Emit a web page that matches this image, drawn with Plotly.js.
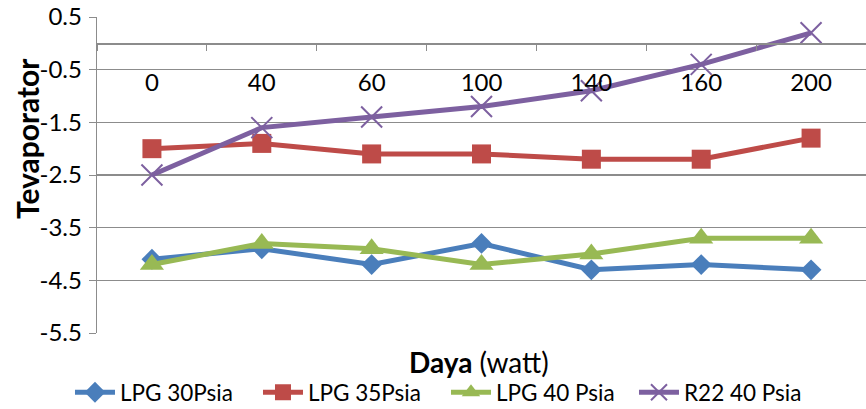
<!DOCTYPE html>
<html><head><meta charset="utf-8">
<script src="https://cdn.plot.ly/plotly-3.0.1.min.js"></script>
<style>html,body{margin:0;padding:0;background:#fff}#chart{width:866px;height:409px}</style>
</head><body><div id="chart"></div>
<script>
const categories = ['0','40','60','100','140','160','200'];
const lpg30 = [-4.1, -3.9, -4.2, -3.8, -4.3, -4.2, -4.3];
const lpg35 = [-2.0, -1.9, -2.1, -2.1, -2.2, -2.2, -1.8];
const lpg40 = [-4.2, -3.8, -3.9, -4.2, -4.0, -3.7, -3.7];
const r22 = [-2.5, -1.6, -1.4, -1.2, -0.9, -0.4, 0.2];
const seriesNames = ['LPG 30Psia', 'LPG 35Psia', 'LPG 40 Psia', 'R22 40 Psia'];
const yTicks = [0.5, -0.5, -1.5, -2.5, -3.5, -4.5, -5.5];

const FONT = 'Lato, "Open Sans", sans-serif';
const colors = ['#4A7EBB', '#BE4B48', '#98B954', '#7D60A0'];
const symbols = ['diamond', 'square', 'triangle-up', 'x-thin'];
const sizes = [16, 19, 21, 21];
const data = [lpg30, lpg35, lpg40, r22].map((ys, i) => ({
  x: categories, y: ys, type: 'scatter', mode: 'lines+markers',
  name: seriesNames[i],
  line: {color: colors[i], width: 5},
  marker: {symbol: symbols[i], size: sizes[i], color: colors[i],
           line: {color: colors[i], width: i === 3 ? 2 : 0}}
}));

const yMin = -5.5, yMax = 0.5;
const layout = {
  width: 866, height: 409,
  margin: {l: 97, r: 0, t: 17, b: 76},
  paper_bgcolor: '#fff', plot_bgcolor: '#fff',
  font: {family: FONT, size: 22, color: '#000'},
  showlegend: true,
  legend: {orientation: 'h', xref: 'container', x: 0.515, xanchor: 'center',
           yref: 'container', y: 0.04, yanchor: 'middle',
           bgcolor: 'rgba(0,0,0,0)',
           font: {size: 22.5, family: FONT}, itemwidth: 40, tracegroupgap: 0,
           entrywidth: 133, entrywidthmode: 'pixels'},
  xaxis: {type: 'category', range: [-0.5, 6.5], anchor: 'free',
          position: (0 - yMin) / (yMax - yMin),
          showline: true, linecolor: '#8c8c8c', linewidth: 1.3,
          ticks: 'outside', tickson: 'boundaries', ticklen: 6, tickcolor: '#8c8c8c',
          ticklabelstandoff: 18, showgrid: false, zeroline: false,
          tickfont: {size: 24, family: FONT}},
  yaxis: {range: [yMin, yMax], tickvals: yTicks, ticktext: yTicks.map(v => v.toFixed(1)),
          showgrid: true, gridcolor: '#8c8c8c', gridwidth: 1.3,
          showline: true, linecolor: '#8c8c8c', linewidth: 1.3,
          ticks: 'outside', ticklen: 7, tickcolor: '#8c8c8c', zeroline: false,
          ticklabelstandoff: 2,
          tickfont: {size: 24, family: FONT}},
  annotations: [
    {text: '<b>Tevaporator</b>', textangle: -90, xref: 'paper', yref: 'paper',
     x: -0.092, xanchor: 'center', y: 0.615, yanchor: 'middle', showarrow: false,
     font: {size: 30, family: FONT}},
    {text: '<b>Daya</b> (watt)', xref: 'paper', yref: 'paper',
     x: 0.497, xanchor: 'center', y: -0.092, yanchor: 'middle', showarrow: false,
     font: {size: 28, family: FONT}}
  ]
};
Plotly.newPlot('chart', data, layout, {displayModeBar: false, staticPlot: true});
</script></body></html>
